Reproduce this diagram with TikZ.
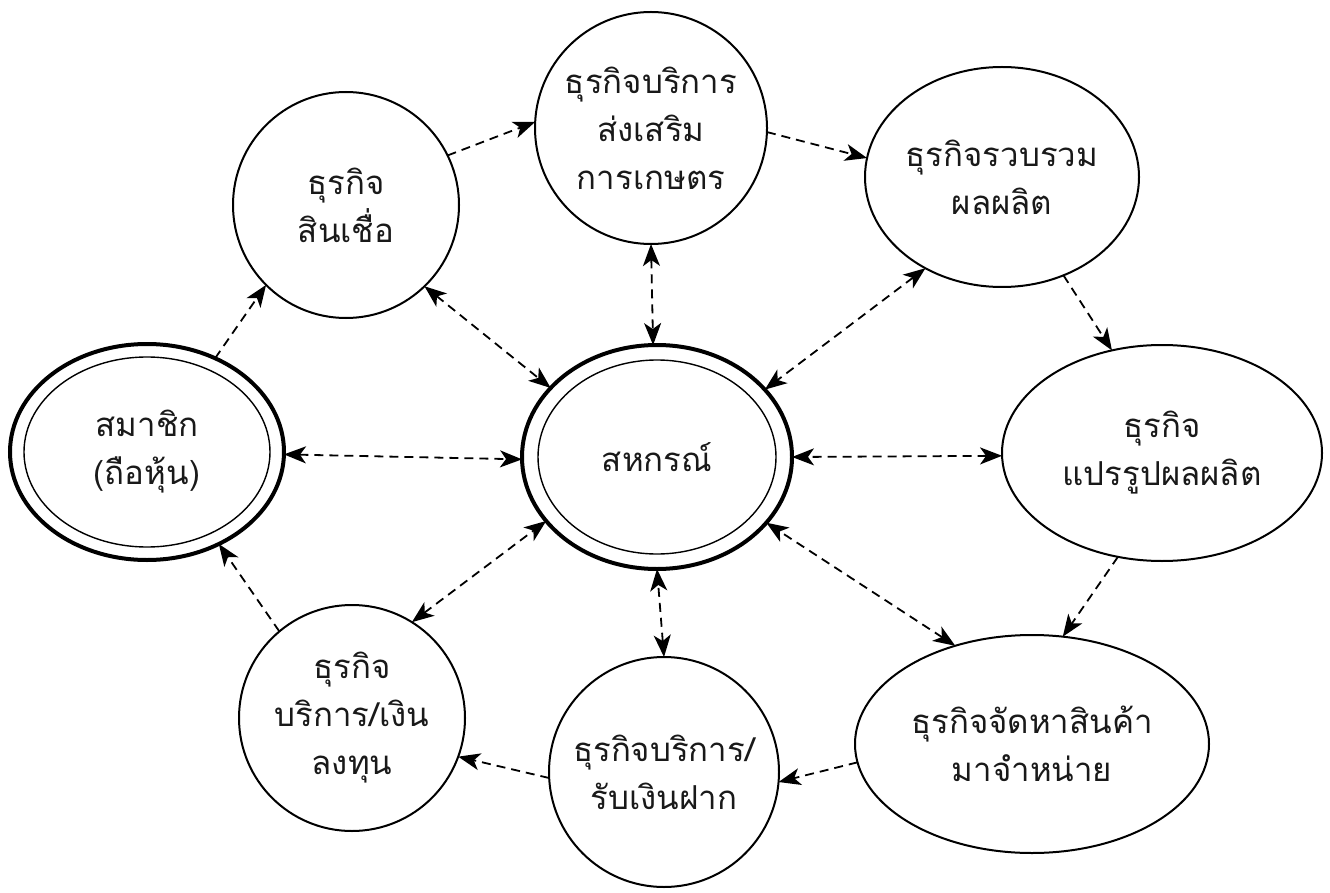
\documentclass[tikz,border=0pt]{standalone}
\usepackage{fontspec}
\newfontfamily\thaifont[Script=Thai]{Loma}
\usetikzlibrary{arrows.meta,shapes.geometric}
\begin{document}
\begin{tikzpicture}[x=1pt,y=-1pt,
  bub/.style={draw, line width=2pt, inner sep=0pt, outer sep=0pt,
    font=\thaifont\fontsize{33}{48}\selectfont, align=center, text=black!90},
  circ/.style={bub, circle, minimum size=#1},
  ell/.style 2 args={bub, ellipse, minimum width=#1, minimum height=#2},
  tip/.style={},
  flow/.style={line width=1.8pt, dash pattern=on 9pt off 6pt,
    -{Stealth[length=22pt,width=17pt,inset=6pt]}},
  both/.style={flow, {Stealth[length=22pt,width=17pt,inset=6pt]}-{Stealth[length=22pt,width=17pt,inset=6pt]}}]
\useasboundingbox (0,0) rectangle (1330,893);

% nodes
\node[ell={274}{216}, line width=4pt] (mem) at (147,452) {สมาชิก\\(ถือหุ้น)};
\draw[line width=1.4pt] (mem.center) ellipse [x radius=123pt, y radius=95pt];
\node[ell={270}{224}, line width=4pt] (coop) at (657,457) {สหกรณ์};
\draw[line width=1.4pt] (coop.center) ellipse [x radius=119pt, y radius=97pt];

\node[circ=226] (cred) at (346,205) {ธุรกิจ\\สินเชื่อ};
\node[circ=232] (prom) at (651,128) {ธุรกิจบริการ\\ส่งเสริม\\การเกษตร};
\node[ell={274}{220}] (coll) at (1002,177) {ธุรกิจรวบรวม\\ผลผลิต};
\node[ell={320}{216}] (proc) at (1162,453) {ธุรกิจ\\แปรรูปผลผลิต};
\node[ell={354}{218}] (supl) at (1032,744) {ธุรกิจจัดหาสินค้า\\มาจำหน่าย};
\node[circ=230] (dep) at (664,772) {ธุรกิจบริการ/\\รับเงินฝาก};
\node[circ=226] (inv) at (352,718) {ธุรกิจ\\บริการ/เงิน\\ลงทุน};

% outer cycle
\draw[flow] (mem.54) -- (cred.225);
\draw[flow] (cred.26) -- (prom.177);
\draw[flow] (prom.-2) -- (coll.172);
\draw[flow] (coll.-58) -- (proc.116);
\draw[flow] (proc.247) -- (supl.74);
\draw[flow] (supl.186) -- (dep.-5);
\draw[flow] (dep.183) -- (inv.-20);
\draw[flow] (inv.130) -- (mem.-52);

% spokes
\draw[both] (mem.-1) -- (coop.181);
\draw[both] (cred.-46) -- (coop.147);
\draw[both] (prom.-90) -- (coop.92);
\draw[both] (coll.230) -- (coop.32);
\draw[both] (proc.181) -- (coop.0);
\draw[both] (supl.128) -- (coop.-31);
\draw[both] (dep.90) -- (coop.-90);
\draw[both] (inv.58) -- (coop.210);
\end{tikzpicture}
\end{document}
